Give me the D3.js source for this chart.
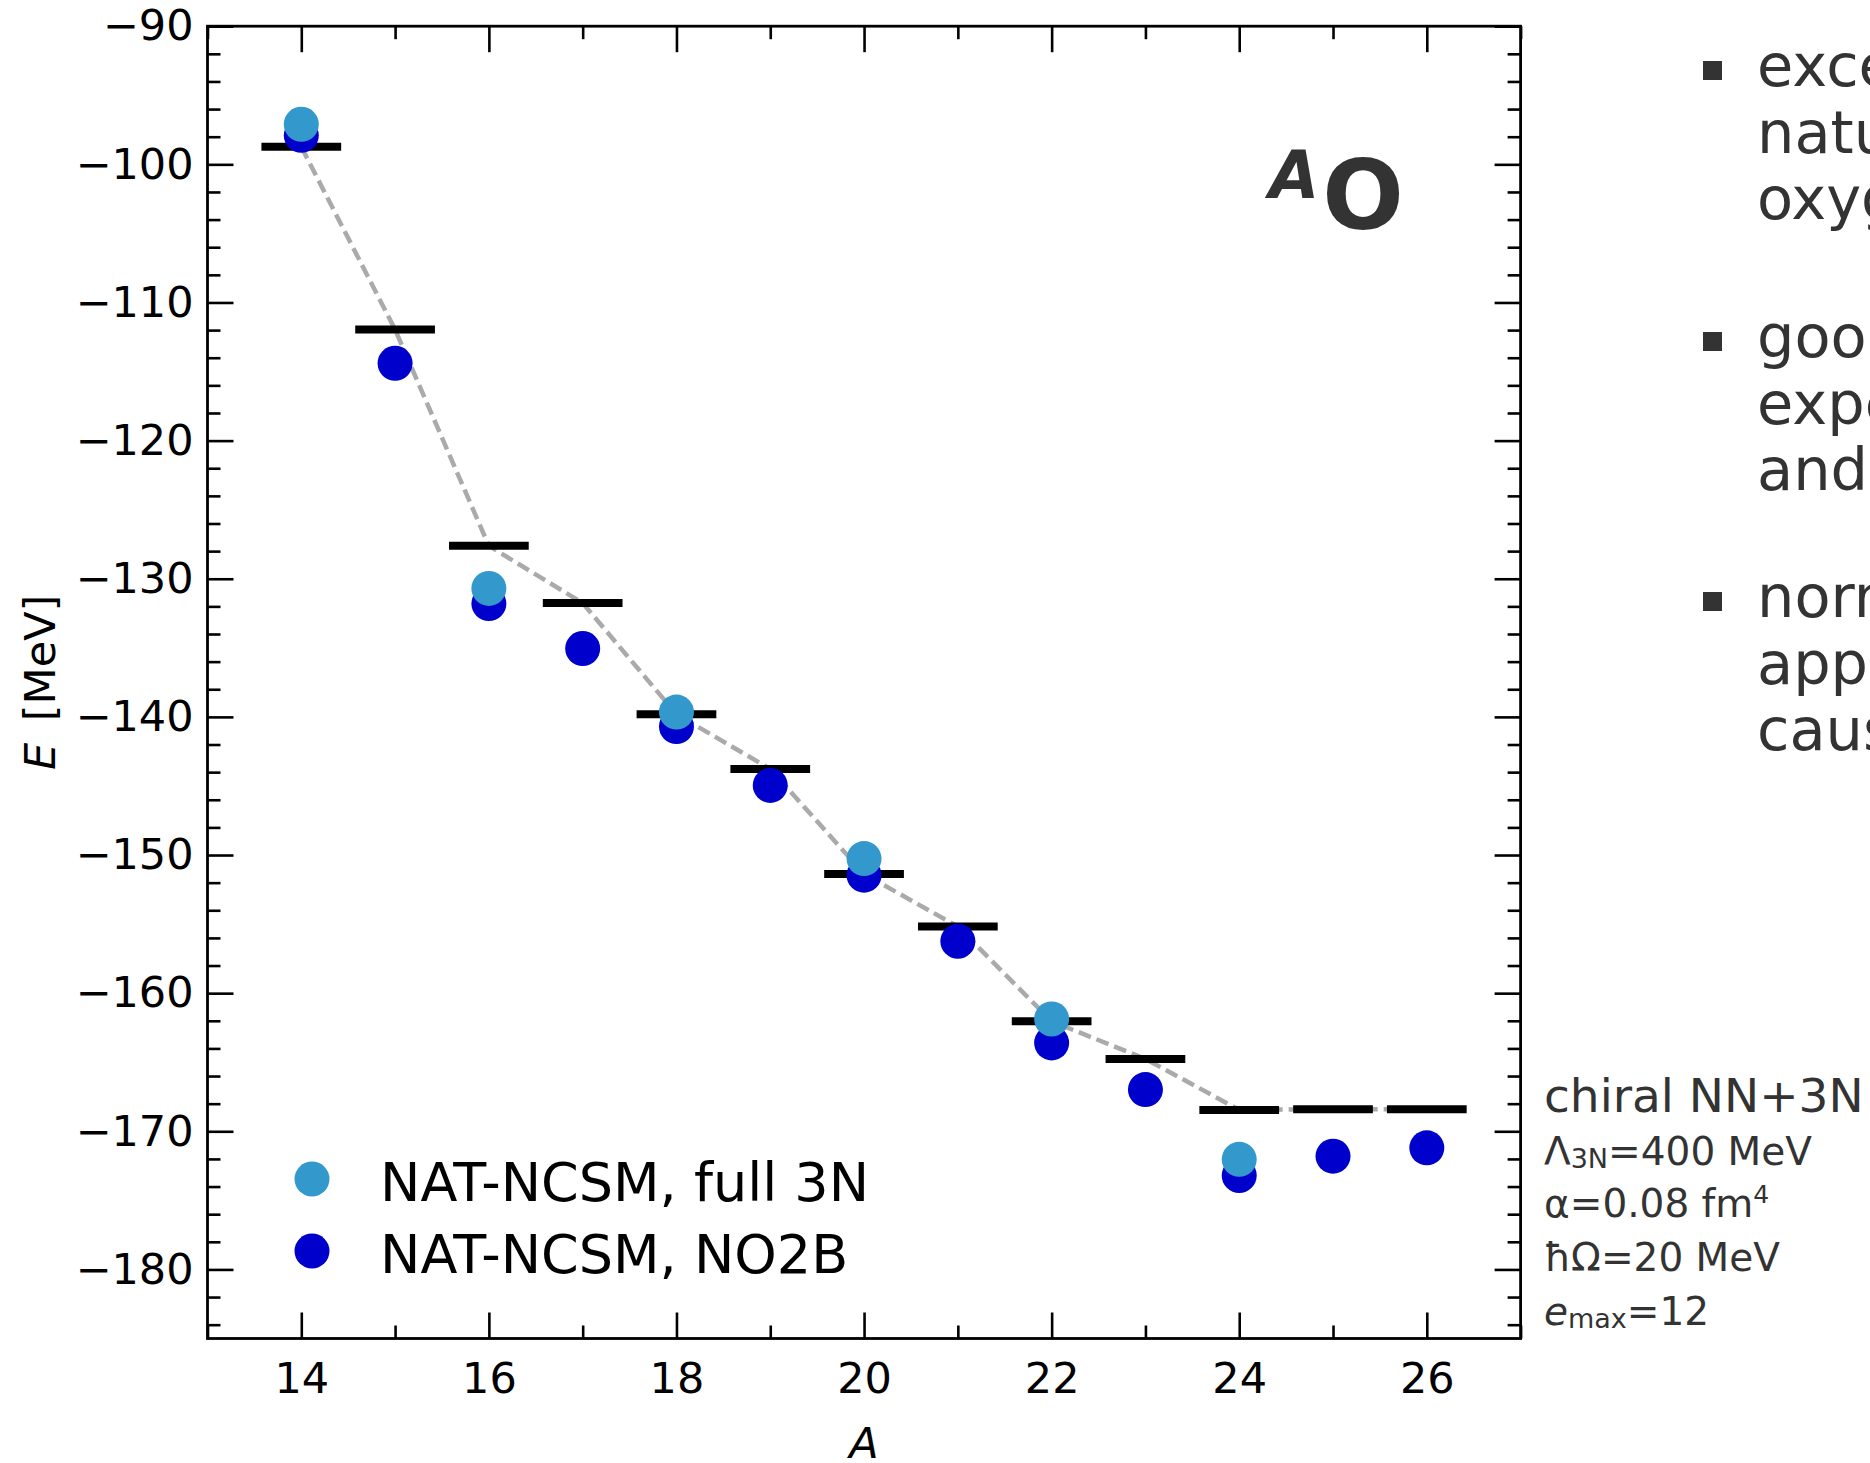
<!DOCTYPE html>
<html>
<head>
<meta charset="utf-8">
<script src="https://cdn.jsdelivr.net/npm/d3@7"></script>
<style>
  body { margin: 0; background: #fff; }
  svg { display: block; font-family: "DejaVu Sans", Verdana, sans-serif; }
</style>
</head>
<body>
<div id="chart"></div>
<script>
// data
const massNumbers = [14, 15, 16, 17, 18, 19, 20, 21, 22, 23, 24, 25, 26];
const expEnergy = [-98.73, -111.96, -127.62, -131.76, -139.81, -143.77, -151.37, -155.18, -162.04, -164.76, -168.45, -168.4, -168.4];
const full3nA = [14, 16, 18, 20, 22, 24];
const full3nEnergy = [-97.1, -130.7, -139.65, -150.26, -161.87, -172.03];
const no2bEnergy = [-97.9, -114.4, -131.8, -135.05, -140.7, -144.96, -151.46, -156.24, -163.6, -166.98, -173.2, -171.8, -171.2];
const xMajorTicks = [14, 16, 18, 20, 22, 24, 26];
const xMinorTicks = [13, 15, 17, 19, 21, 23, 25, 27];
const yMajorTicks = [-90, -100, -110, -120, -130, -140, -150, -160, -170, -180];
const legendLabels = ["NAT-NCSM, full 3N", "NAT-NCSM, NO2B"];

const width = 1870, height = 1463;
const margin = { top: 26.2, right: 349.4, bottom: 124.5, left: 207.5 };
const lightBlue = "#3399cc", darkBlue = "#0000cc";

const svg = d3.select("#chart").append("svg")
    .attr("width", width)
    .attr("height", height);

const x = d3.scaleLinear().domain([13, 27]).range([margin.left, width - margin.right]);
const y = d3.scaleLinear().domain([-185, -90]).range([height - margin.bottom, margin.top]);

const yMinorTicks = d3.range(-184, -89, 2).filter(v => v % 10 !== 0);

// axes with inward ticks on all sides
function styleAxis(g) {
    g.select(".domain").remove();
    g.selectAll(".tick line").attr("stroke", "#000").attr("stroke-width", 2.6);
    g.selectAll("text").attr("fill", "#000").style("font-size", "43px")
        .style("font-family", "'DejaVu Sans', Verdana, sans-serif");
}

svg.append("g")
    .attr("transform", `translate(0,${y.range()[0]})`)
    .call(d3.axisBottom(x).tickValues(xMajorTicks).tickSize(-26).tickPadding(24).tickFormat(d3.format("d")))
    .call(styleAxis);
svg.append("g")
    .attr("transform", `translate(0,${y.range()[0]})`)
    .call(d3.axisBottom(x).tickValues(xMinorTicks).tickSize(-13).tickFormat(""))
    .call(styleAxis);
svg.append("g")
    .attr("transform", `translate(0,${y.range()[1]})`)
    .call(d3.axisTop(x).tickValues(xMajorTicks).tickSize(-26).tickFormat(""))
    .call(styleAxis);
svg.append("g")
    .attr("transform", `translate(0,${y.range()[1]})`)
    .call(d3.axisTop(x).tickValues(xMinorTicks).tickSize(-13).tickFormat(""))
    .call(styleAxis);

svg.append("g")
    .attr("transform", `translate(${x.range()[0]},0)`)
    .call(d3.axisLeft(y).tickValues(yMajorTicks).tickSize(-26).tickPadding(14))
    .call(styleAxis);
svg.append("g")
    .attr("transform", `translate(${x.range()[0]},0)`)
    .call(d3.axisLeft(y).tickValues(yMinorTicks).tickSize(-13).tickFormat(""))
    .call(styleAxis);
svg.append("g")
    .attr("transform", `translate(${x.range()[1]},0)`)
    .call(d3.axisRight(y).tickValues(yMajorTicks).tickSize(-26).tickFormat(""))
    .call(styleAxis);
svg.append("g")
    .attr("transform", `translate(${x.range()[1]},0)`)
    .call(d3.axisRight(y).tickValues(yMinorTicks).tickSize(-13).tickFormat(""))
    .call(styleAxis);

// frame
svg.append("rect")
    .attr("x", x.range()[0])
    .attr("y", y.range()[1])
    .attr("width", x.range()[1] - x.range()[0])
    .attr("height", y.range()[0] - y.range()[1])
    .attr("fill", "none")
    .attr("stroke", "#000")
    .attr("stroke-width", 2.8);

// grey dashed line through experiment
const expData = massNumbers.map((a, i) => ({ a: a, e: expEnergy[i] }));
svg.append("path")
    .datum(expData)
    .attr("d", d3.line().x(d => x(d.a)).y(d => y(d.e)))
    .attr("fill", "none")
    .attr("stroke", "#aaaaaa")
    .attr("stroke-width", 4.5)
    .attr("stroke-dasharray", "13,6");

// experimental bars
svg.selectAll(".exp")
    .data(expData)
    .enter().append("line")
    .attr("class", "exp")
    .attr("x1", d => x(d.a - 0.425))
    .attr("x2", d => x(d.a + 0.425))
    .attr("y1", d => y(d.e))
    .attr("y2", d => y(d.e))
    .attr("stroke", "#000")
    .attr("stroke-width", 8);

// NO2B points
svg.selectAll(".no2b")
    .data(massNumbers.map((a, i) => ({ a: a, e: no2bEnergy[i] })))
    .enter().append("circle")
    .attr("class", "no2b")
    .attr("cx", d => x(d.a))
    .attr("cy", d => y(d.e))
    .attr("r", 17.5)
    .attr("fill", darkBlue);

// full 3N points
svg.selectAll(".full3n")
    .data(full3nA.map((a, i) => ({ a: a, e: full3nEnergy[i] })))
    .enter().append("circle")
    .attr("class", "full3n")
    .attr("cx", d => x(d.a))
    .attr("cy", d => y(d.e))
    .attr("r", 17.5)
    .attr("fill", lightBlue);

// legend
const legend = svg.append("g");
legendLabels.forEach((label, i) => {
    const ly = 1179 + i * 72;
    legend.append("circle")
        .attr("cx", 312).attr("cy", ly).attr("r", 17.5)
        .attr("fill", i === 0 ? lightBlue : darkBlue);
    legend.append("text")
        .attr("x", 380).attr("y", ly + 21.5)
        .style("font-size", "54px")
        .attr("fill", "#000")
        .text(label);
});

// axis labels
svg.append("text")
    .attr("x", (x.range()[0] + x.range()[1]) / 2)
    .attr("y", 1458)
    .attr("text-anchor", "middle")
    .style("font-size", "43px")
    .style("font-style", "italic")
    .text("A");

const yLabel = svg.append("text")
    .attr("transform", `translate(55,${(y.range()[0] + y.range()[1]) / 2}) rotate(-90)`)
    .attr("text-anchor", "middle")
    .style("font-size", "43px");
yLabel.append("tspan").style("font-style", "italic").text("E");
yLabel.append("tspan").attr("dx", 8).text(" [MeV]");

// nucleus label
const title = svg.append("text")
    .attr("x", 1269).attr("y", 198)
    .attr("fill", "#333")
    .style("font-weight", "bold");
title.append("tspan").style("font-style", "italic").style("font-size", "65px").text("A");
title.append("tspan").attr("dy", 31).attr("dx", 3).style("font-size", "96px").text("O");

// interaction parameters
const params = svg.append("g").attr("fill", "#333");
params.append("text").attr("x", 1544).attr("y", 1112).style("font-size", "47px").text("chiral NN+3N");
const p1 = params.append("text").attr("x", 1544).attr("y", 1165).style("font-size", "39px");
p1.append("tspan").text("Λ");
p1.append("tspan").attr("dy", 3).style("font-size", "27px").text("3N");
p1.append("tspan").attr("dy", -3).text("=400 MeV");
const p2 = params.append("text").attr("x", 1544).attr("y", 1217).style("font-size", "39px");
p2.append("tspan").text("α=0.08 fm");
p2.append("tspan").attr("dy", -14).style("font-size", "25px").text("4");
params.append("text").attr("x", 1544).attr("y", 1271).style("font-size", "39px").text("ħΩ=20 MeV");
const p4 = params.append("text").attr("x", 1544).attr("y", 1325).style("font-size", "39px");
p4.append("tspan").style("font-style", "italic").text("e");
p4.append("tspan").attr("dy", 3).style("font-size", "27px").text("max");
p4.append("tspan").attr("dy", -3).text("=12");

// slide bullets (cut off at the right edge, as on the slide)
const bullets = [
    { top: 61, lines: ["excellent", "natural", "oxygen"] },
    { top: 332, lines: ["good", "experiment", "and"] },
    { top: 592, lines: ["normal", "approximation", "causes"] }
];
const bulletGroup = svg.append("g").attr("fill", "#333");
bullets.forEach(b => {
    bulletGroup.append("rect")
        .attr("x", 1703).attr("y", b.top).attr("width", 19).attr("height", 19);
    b.lines.forEach((line, j) => {
        bulletGroup.append("text")
            .attr("x", 1757)
            .attr("y", b.top + 25 + j * 66.5)
            .style("font-size", "59px")
            .text(line);
    });
});
</script>
</body>
</html>
